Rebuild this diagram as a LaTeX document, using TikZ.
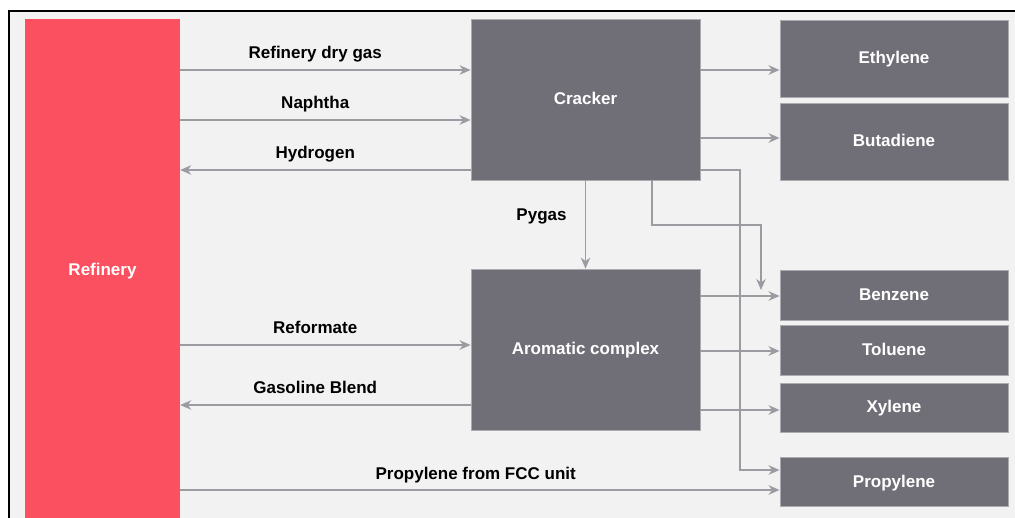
\documentclass[tikz,border=0pt]{standalone}
\usepackage{fontspec}
\setmainfont{Liberation Sans}
\usetikzlibrary{arrows.meta,positioning}
\definecolor{refred}{RGB}{251,80,95}
\definecolor{boxgray}{RGB}{112,111,120}
\definecolor{edgegray}{RGB}{170,170,176}
\definecolor{flowgray}{RGB}{155,155,162}
\definecolor{bggray}{RGB}{242,242,242}

\tikzset{
  flow/.style={draw=flowgray, line width=1.4pt, -{Stealth[length=11pt,width=9.5pt,inset=3.5pt]}},
  unit/.style={draw=edgegray, line width=0.8pt, fill=boxgray, text=white,
    font=\fontsize{17}{20}\selectfont\bfseries, inner sep=0pt, text height=12pt, text depth=1pt},
  lbl/.style={font=\fontsize{17}{20}\selectfont\bfseries, anchor=base, yshift=11pt},
}

\begin{document}
\begin{tikzpicture}[x=1pt,y=-1pt]
  % page and frame (frame runs off to the right and bottom)
  \useasboundingbox (0,0) rectangle (1015,518);
  \fill[white] (0,0) rectangle (1015,518);
  \filldraw[fill=bggray,draw=black,line width=1.5pt] (9,11) rectangle (1030,540);

  % refinery column
  \node[fill=refred, text=white, font=\fontsize{17}{20}\selectfont\bfseries, text height=12pt, text depth=1pt,
    minimum width=155pt, minimum height=502pt, inner sep=0pt] (refinery) at (102.5,270) {Refinery};

  % process units
  \node[unit, minimum width=229pt, minimum height=161pt] (cracker)  at (585.5,99.5)  {Cracker};
  \node[unit, minimum width=229pt, minimum height=161pt] (aromatic) at (585.5,349.5) {Aromatic complex};

  % products
  \node[unit, minimum width=228pt, minimum height=77pt] (ethylene)  at (894,58.5)  {Ethylene};
  \node[unit, minimum width=228pt, minimum height=77pt] (butadiene) at (894,141.5) {Butadiene};
  \node[unit, minimum width=228pt, minimum height=50pt] (benzene)   at (894,295)   {Benzene};
  \node[unit, minimum width=228pt, minimum height=50pt] (toluene)   at (894,350)   {Toluene};
  \node[unit, minimum width=228pt, minimum height=49pt] (xylene)    at (894,407.5) {Xylene};
  \node[unit, minimum width=228pt, minimum height=49pt] (propylene) at (894,481.5) {Propylene};

  % refinery <-> units
  \draw[flow] (refinery.east |- 0,70) -- node[lbl,pos=.465] {Refinery dry gas} (cracker.west |- 0,70);
  \draw[flow] (refinery.east |- 0,120) -- node[lbl,pos=.465] {Naphtha} (cracker.west |- 0,120);
  \draw[flow] (cracker.west |- 0,170) -- node[lbl,pos=.535] {Hydrogen} (refinery.east |- 0,170);
  \draw[flow] (refinery.east |- 0,345) -- node[lbl,pos=.465] {Reformate} (aromatic.west |- 0,345);
  \draw[flow] (aromatic.west |- 0,405) -- node[lbl,pos=.535] {Gasoline Blend} (refinery.east |- 0,405);
  \draw[flow] (refinery.east |- 0,490) -- node[lbl,pos=.493] {Propylene from FCC unit} (propylene.west |- 0,490);

  % cracker products
  \draw[flow] (cracker.east |- 0,70) -- (ethylene.west |- 0,70);
  \draw[flow] (cracker.east |- 0,138) -- (butadiene.west |- 0,138);
  \draw[flow] (cracker.south) -- node[font=\fontsize{17}{20}\selectfont\bfseries, anchor=base, pos=.45, xshift=-44pt] {Pygas} (aromatic.north);
  \coordinate (bzdrop) at (761,290);
  \draw[flow] (cracker.south -| 652,0) |- (bzdrop |- 0,225) -- (bzdrop);
  \draw[flow] (cracker.east |- 0,170) -| (740,470) -- (propylene.west |- 0,470);

  % aromatics products
  \draw[flow] (aromatic.east |- 0,296) -- (benzene.west |- 0,296);
  \draw[flow] (aromatic.east |- 0,351) -- (toluene.west |- 0,351);
  \draw[flow] (aromatic.east |- 0,410) -- (xylene.west |- 0,410);
\end{tikzpicture}
\end{document}
